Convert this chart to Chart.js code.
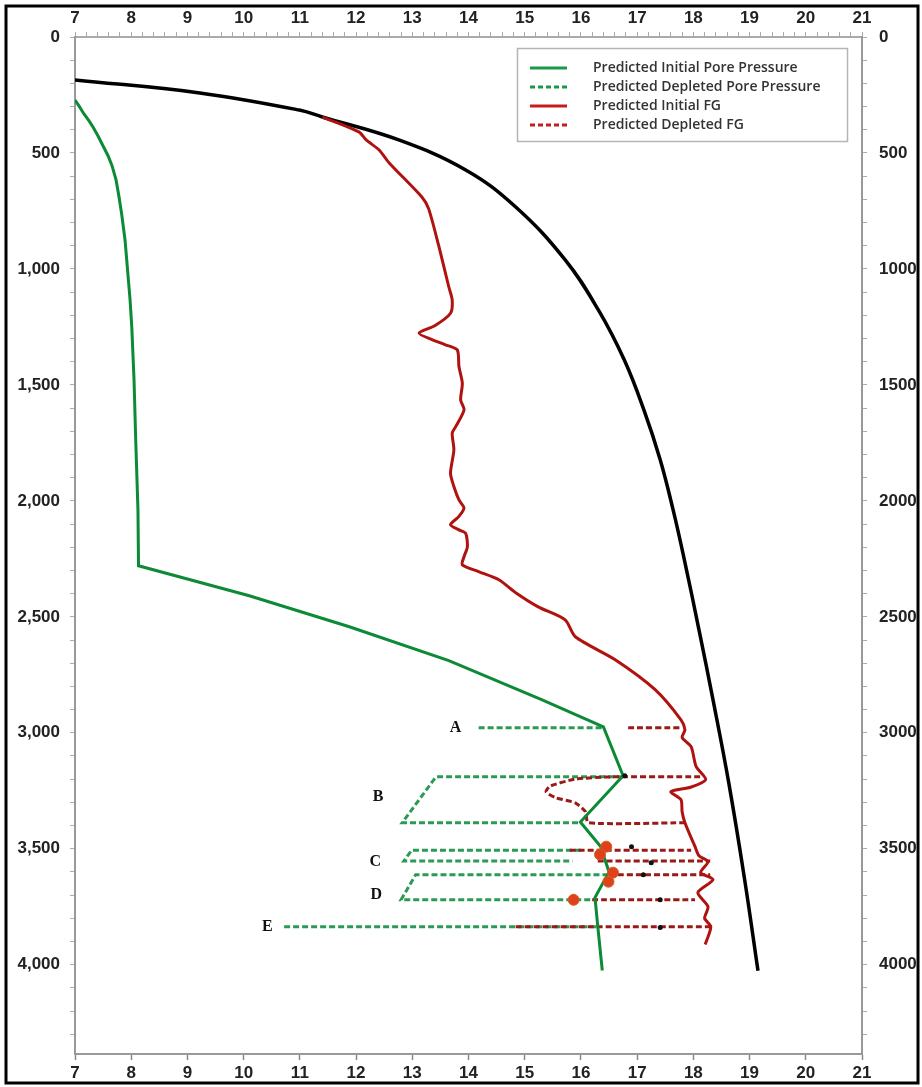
<!DOCTYPE html>
<html><head><meta charset="utf-8">
<script src="https://cdn.jsdelivr.net/npm/chart.js@4.4.1/dist/chart.umd.min.js"></script>
<style>html,body{margin:0;padding:0;background:#fff;}canvas{display:block;}</style>
</head><body>
<canvas id="c" width="922" height="1087"></canvas>
<script>
// ---- tick labels ----
const xTickLabels = [7,8,9,10,11,12,13,14,15,16,17,18,19,20,21];
const yTickLabels = [0,500,1000,1500,2000,2500,3000,3500,4000];

// ---- overburden (black) ----
const obX = [7.0, 9.22, 10.99, 11.40, 12.76, 13.95, 14.84, 15.72, 16.31, 16.77, 17.12, 17.41, 17.64, 17.84, 18.10, 18.35, 18.63, 18.91, 19.15];
const obD = [185, 241, 315, 345, 444, 573, 733, 961, 1177, 1392, 1608, 1823, 2039, 2254, 2556, 2858, 3216, 3629, 4026];

// ---- Predicted Initial Pore Pressure (green solid) ----
const ppX = [7.0, 7.07, 7.16, 7.25, 7.32, 7.41, 7.50, 7.59, 7.66, 7.73, 7.78, 7.83, 7.89, 7.92, 7.98, 8.01, 8.05, 8.08, 8.12, 8.13, 10.1, 11.88, 13.65, 15.3, 16.4, 16.75, 15.99, 16.35, 16.5, 16.25, 16.3, 16.38];
const ppD = [272, 297, 332, 362, 388, 427, 470, 513, 556, 616, 685, 763, 875, 961, 1134, 1250, 1478, 1737, 2039, 2280, 2409, 2543, 2689, 2857, 2975, 3185, 3385, 3490, 3600, 3710, 3836, 4025];

// ---- Predicted Depleted Pore Pressure (green dashed), null = break ----
const dppX = [14.18, 16.4, null, 16.75, 13.42, 12.82, 15.99, null, 16.0, 12.99, 12.85, 15.85, null, 16.49, 13.06, 12.80, 16.19, null, 10.72, 16.3];
const dppD = [2978, 2978, null, 3190, 3190, 3388, 3388, null, 3506, 3506, 3553, 3553, null, 3612, 3612, 3720, 3720, null, 3836, 3836];

// ---- Predicted Initial FG (red solid) ----
const fgX = [11.40, 12.05, 12.18, 12.41, 12.59, 13.17, 13.29, 13.47, 13.65, 13.71, 13.68, 13.40, 13.12, 13.35, 13.59, 13.80, 13.83, 13.89, 13.86, 13.92, 13.77, 13.71, 13.74, 13.68, 13.74, 13.83, 13.92, 13.83, 13.68, 13.83, 13.95, 13.98, 13.92, 13.89, 14.18, 14.54, 14.84, 15.24, 15.72, 15.90, 16.61, 17.32, 17.78, 17.85, 17.80, 17.96, 18.05, 18.22, 17.95, 17.60, 17.78, 17.80, 17.85, 18.03, 18.10, 18.26, 18.13, 18.35, 18.08, 18.26, 18.20, 18.31, 18.21];
const fgD = [345, 409, 444, 487, 543, 690, 740, 900, 1078, 1134, 1191, 1245, 1277, 1305, 1327, 1349, 1421, 1493, 1565, 1608, 1681, 1708, 1780, 1881, 1938, 1996, 2031, 2067, 2103, 2125, 2140, 2198, 2241, 2276, 2305, 2340, 2396, 2457, 2513, 2586, 2685, 2814, 2944, 2987, 3020, 3060, 3146, 3202, 3235, 3254, 3289, 3340, 3388, 3491, 3530, 3556, 3603, 3633, 3689, 3750, 3800, 3836, 3913];

// ---- Predicted Depleted FG (red dashed), null = break ----
const dfgX = [16.84, 17.8, null, 18.12, 16.55, 15.9, 15.45, 15.38, 15.55, 15.9, 16.08, 16.13, 17.85, null, 15.8, 17.96, null, 16.3, 18.3, null, 16.5, 18.3, null, 16.2, 18.03, null, 14.84, 18.31];
const dfgD = [2978, 2978, null, 3190, 3190, 3200, 3230, 3255, 3280, 3302, 3340, 3388, 3388, null, 3506, 3506, null, 3553, 3553, null, 3612, 3612, null, 3720, 3720, null, 3836, 3836];

// ---- small marks ----
const redMarkX = [16.45, 16.34, 16.57, 16.49, 15.87];
const redMarkD = [3491, 3525, 3603, 3642, 3720];
const blackMarkX = [16.78, 16.9, 17.25, 17.11, 17.41, 17.41];
const blackMarkD = [3185, 3491, 3560, 3612, 3720, 3840];

// ---- case labels ----
const caseLabels = ['A', 'B', 'C', 'D', 'E'];
const caseX = [13.77, 12.39, 12.34, 12.36, 10.42];
const caseD = [2980, 3276, 3556, 3698, 3836];

function pts(xs, ds) { return xs.map((x, i) => ({x: x, y: ds[i]})); }

const GREEN = '#0c8a36';
const GREEN_D = '#2a9a55';
const RED = '#b0120f';
const RED_D = '#9a1a1a';

const legendItems = [
  {label: 'Predicted Initial Pore Pressure', color: '#1a9a48', dash: []},
  {label: 'Predicted Depleted Pore Pressure', color: '#1a9a48', dash: [5, 3]},
  {label: 'Predicted Initial FG', color: '#c81c1c', dash: []},
  {label: 'Predicted Depleted FG', color: '#c81c1c', dash: [5, 3]}
];

const framePlugin = {
  id: 'frame',
  afterDraw(chart) {
    const ctx = chart.ctx;
    ctx.save();
    // case labels
    const xs = chart.scales.x, ys = chart.scales.y;
    ctx.fillStyle = '#111';
    ctx.font = 'bold 16px "Liberation Serif"';
    ctx.textAlign = 'center';
    ctx.textBaseline = 'middle';
    caseLabels.forEach((t, i) => ctx.fillText(t, xs.getPixelForValue(caseX[i]), ys.getPixelForValue(caseD[i])));
    // legend box
    ctx.fillStyle = '#fff';
    ctx.fillRect(517, 48, 331, 94);
    ctx.strokeStyle = '#b5b5b5';
    ctx.lineWidth = 1.5;
    ctx.strokeRect(517.5, 48.5, 330, 93);
    ctx.textAlign = 'left';
    ctx.font = '600 14px "Open Sans"';
    legendItems.forEach((it, i) => {
      const y = 68 + i * 19;
      ctx.beginPath();
      ctx.setLineDash(it.dash);
      ctx.strokeStyle = it.color;
      ctx.lineWidth = 3;
      ctx.moveTo(530, y); ctx.lineTo(567, y);
      ctx.stroke();
      ctx.setLineDash([]);
      ctx.fillStyle = '#333';
      ctx.fillText(it.label, 593, y);
    });
    // outer frame
    ctx.strokeStyle = '#000';
    ctx.lineWidth = 3;
    ctx.strokeRect(6, 6, 912, 1077);
    ctx.restore();
  }
};

const tickFont = {family: '"Liberation Sans", Arial, sans-serif', size: 17, weight: 'bold'};
const isInt = v => xTickLabels.includes(Math.round(v * 1000) / 1000);

new Chart(document.getElementById('c'), {
  type: 'scatter',
  data: {
    datasets: [
      {label: 'Overburden', data: pts(obX, obD), showLine: true, borderColor: '#000', borderWidth: 3.5, pointRadius: 0, tension: 0.4, order: 5},
      {label: 'Predicted Depleted Pore Pressure', data: pts(dppX, dppD), showLine: true, borderColor: GREEN_D, borderWidth: 3, borderDash: [6, 3], pointRadius: 0, spanGaps: false, order: 4},
      {label: 'Predicted Depleted FG', data: pts(dfgX, dfgD), showLine: true, borderColor: RED_D, borderWidth: 3, borderDash: [6, 3], pointRadius: 0, spanGaps: false, tension: 0.2, order: 3},
      {label: 'Predicted Initial FG', data: pts(fgX, fgD), showLine: true, borderColor: RED, borderWidth: 3, pointRadius: 0, tension: 0.25, order: 2},
      {label: 'Predicted Initial Pore Pressure', data: pts(ppX, ppD), showLine: true, borderColor: GREEN, borderWidth: 3, pointRadius: 0, tension: 0, order: 1},
      {label: 'marks red', data: pts(redMarkX, redMarkD), showLine: false, pointRadius: 5.5, backgroundColor: '#e0401c', borderColor: '#d06020', borderWidth: 1, order: 0},
      {label: 'marks black', data: pts(blackMarkX, blackMarkD), showLine: false, pointRadius: 2.5, backgroundColor: '#111', borderColor: '#111', borderWidth: 0, order: 0}
    ]
  },
  options: {
    responsive: false,
    animation: false,
    events: [],
    layout: {padding: 0},
    plugins: {legend: {display: false}, tooltip: {enabled: false}},
    scales: {
      x: {
        type: 'linear', position: 'bottom', min: 7, max: 21,
        ticks: {stepSize: 1, autoSkip: false, font: tickFont, color: '#222', padding: 3, maxRotation: 0,
          callback: v => isInt(v) ? String(Math.round(v)) : ''},
        grid: {drawOnChartArea: false, drawTicks: true, tickLength: 6, tickColor: '#888', tickWidth: 1.5},
        border: {color: '#999', width: 2},
        afterFit: s => { s.height = 33; }
      },
      x2: {
        type: 'linear', position: 'top', min: 7, max: 21,
        ticks: {stepSize: 0.2, autoSkip: false, font: tickFont, color: '#222', padding: 3, maxRotation: 0,
          callback: v => isInt(v) ? String(Math.round(v)) : ''},
        grid: {drawOnChartArea: false, drawTicks: true, tickLength: 5, tickColor: '#aaa', tickWidth: 1},
        border: {color: '#aaa', width: 2},
        afterFit: s => { s.height = 37; }
      },
      y: {
        type: 'linear', position: 'left', min: 0, max: 4385, reverse: true,
        ticks: {stepSize: 100, autoSkip: false, includeBounds: false, font: tickFont, color: '#222', padding: 10,
          callback: v => yTickLabels.includes(v) ? v.toLocaleString('en-US') : ''},
        grid: {drawOnChartArea: false, drawTicks: true, tickLength: 5, tickColor: '#aaa', tickWidth: 1},
        border: {color: '#999', width: 2},
        afterFit: s => { s.width = 75; }
      },
      y2: {
        type: 'linear', position: 'right', min: 0, max: 4385, reverse: true,
        ticks: {stepSize: 100, autoSkip: false, includeBounds: false, font: tickFont, color: '#222', padding: 12,
          callback: v => yTickLabels.includes(v) ? String(v) : ''},
        grid: {drawOnChartArea: false, drawTicks: true, tickLength: 5, tickColor: '#aaa', tickWidth: 1},
        border: {color: '#999', width: 2},
        afterFit: s => { s.width = 60; }
      }
    }
  },
  plugins: [framePlugin]
});
</script>
</body></html>
